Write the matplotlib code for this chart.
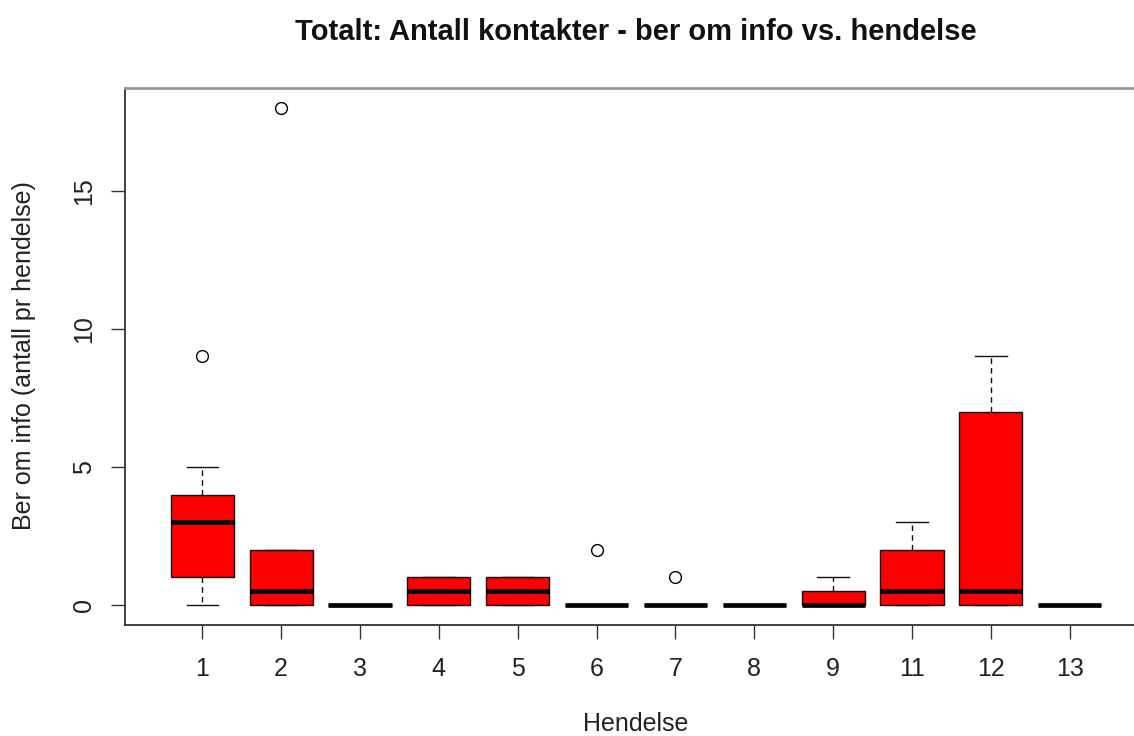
import matplotlib
matplotlib.use("Agg")
import matplotlib.pyplot as plt

plt.rcParams['font.family'] = ['Liberation Sans', 'DejaVu Sans']

categories = ["1", "2", "3", "4", "5", "6", "7", "8", "9", "11", "12", "13"]
whislo = [0, 0, 0, 0, 0, 0, 0, 0, 0, 0, 0, 0]
q1     = [1, 0, 0, 0, 0, 0, 0, 0, 0, 0, 0, 0]
med    = [3, 0.5, 0, 0.5, 0.5, 0, 0, 0, 0, 0.5, 0.5, 0]
q3     = [4, 2, 0, 1, 1, 0, 0, 0, 0.5, 2, 7, 0]
whishi = [5, 2, 0, 1, 1, 0, 0, 0, 1, 3, 9, 0]
fliers = [[9], [18], [], [], [], [2], [1], [], [], [], [], []]

title = "Totalt: Antall kontakter - ber om info vs. hendelse"
xlabel = "Hendelse"
ylabel = "Ber om info (antall pr hendelse)"
yticks = [0, 5, 10, 15]

W, H = 1134, 736
fig = plt.figure(figsize=(W / 100, H / 100), dpi=100)
# axes box in pixel coords: left 125, right 1147 (cropped), top 88, bottom 625
left, right, top, bottom = 125, 1147, 88, 625
ax = fig.add_axes([left / W, 1 - bottom / H, (right - left) / W, (bottom - top) / H])

stats = []
for i in range(len(categories)):
    stats.append(dict(whislo=whislo[i], q1=q1[i], med=med[i], q3=q3[i],
                      whishi=whishi[i], fliers=fliers[i], label=categories[i]))

pos = list(range(1, len(categories) + 1))
ax.bxp(stats, positions=pos, widths=0.8, patch_artist=True,
       boxprops=dict(facecolor='#ff0000', edgecolor='#111111', linewidth=1.0),
       medianprops=dict(color='black', linewidth=3.4, solid_capstyle='butt'),
       whiskerprops=dict(color='#111111', linewidth=1.0, linestyle=(0, (4, 3))),
       capprops=dict(color='#111111', linewidth=1.0),
       capwidths=0.4,
       flierprops=dict(marker='o', markerfacecolor='none', markeredgecolor='black',
                       markersize=8.5, markeredgewidth=1.0))

n = len(categories)
xr = (n + 0.5) - 0.5
ax.set_xlim(0.5 - 0.04 * xr, n + 0.5 + 0.04 * xr)
ax.set_ylim(-0.04 * 18, 18 + 0.04 * 18)

ax.set_xticks(pos)
ax.set_xticklabels(categories, fontsize=18, color='#222222')
ax.set_yticks(yticks)
ax.set_yticklabels([str(v) for v in yticks], fontsize=18, rotation=90, va='center',
                   color='#222222')
ax.tick_params(axis='both', direction='out', length=10, width=1.0, color='#333333')
ax.tick_params(axis='x', pad=13)
ax.tick_params(axis='y', pad=11)

for s in ['left', 'bottom']:
    ax.spines[s].set_color('#333333')
    ax.spines[s].set_linewidth(1.3)
ax.spines['top'].set_color('#999999')
ax.spines['top'].set_linewidth(2.0)
ax.spines['right'].set_color('#999999')

fig.text(636 / W, 1 - 32 / H, title, ha='center', va='center',
         fontsize=21, fontweight='bold', color='#111111')
fig.text(636 / W, 1 - 724 / H, xlabel, ha='center', va='center', fontsize=18,
         color='#222222')
fig.text(24 / W, 1 - 356 / H, ylabel, ha='center', va='center', fontsize=18,
         rotation=90, color='#222222')

fig.savefig("out.png", dpi=100)
